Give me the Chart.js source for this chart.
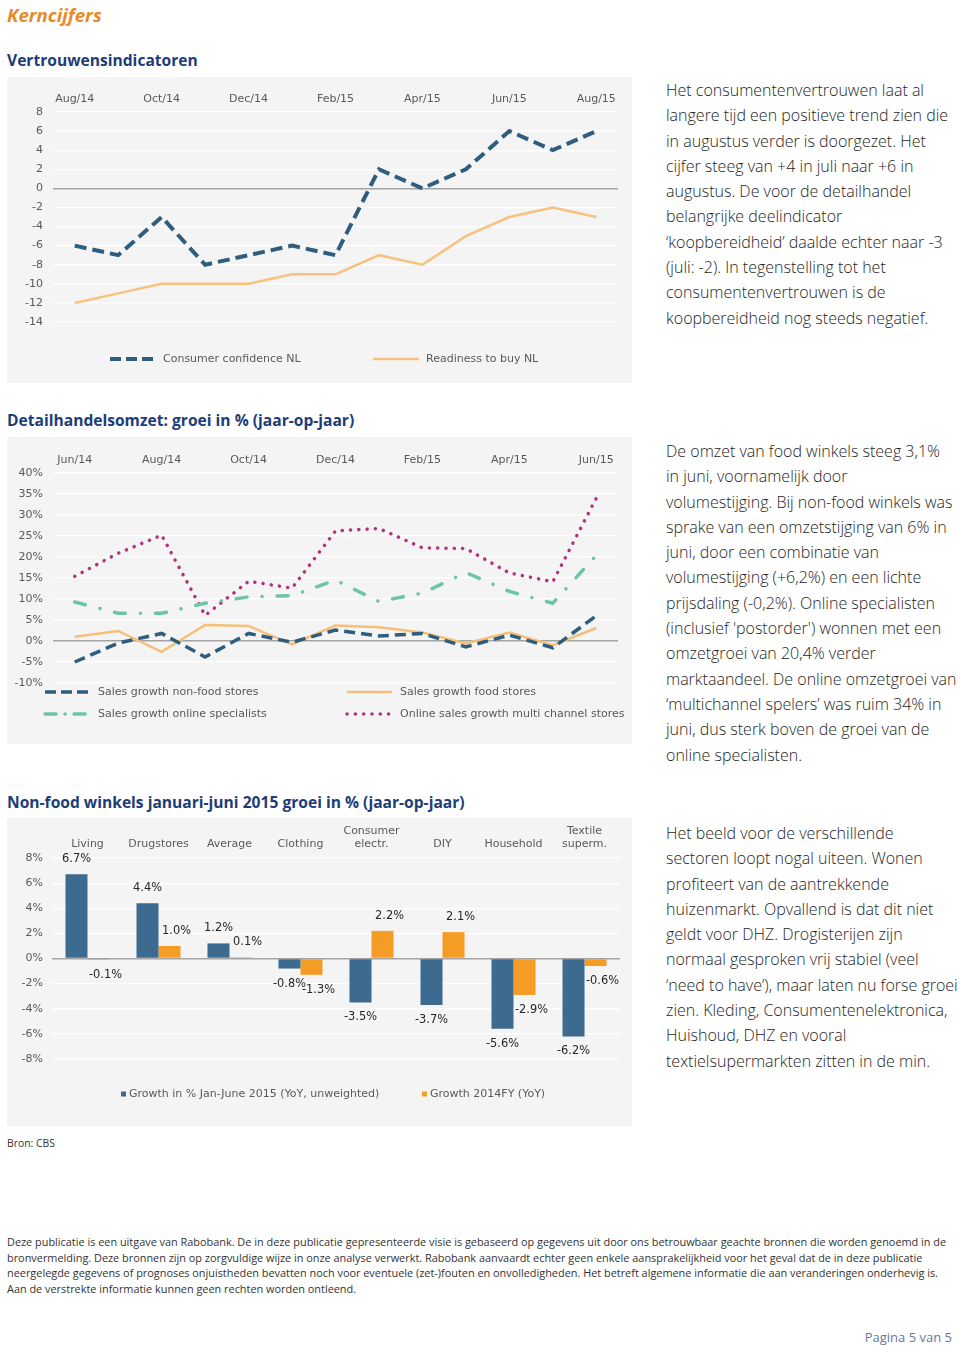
<!DOCTYPE html>
<html lang="nl">
<head>
<meta charset="utf-8">
<title>Kerncijfers</title>
<script src="https://cdn.jsdelivr.net/npm/chart.js@4.4.1/dist/chart.umd.min.js"></script>
<style>
  html, body { margin: 0; padding: 0; background: #fff; }
  body { width: 960px; height: 1350px; position: relative; overflow: hidden; font-family: 'Open Sans', sans-serif; color: #1e1e1e; }
  .abs { position: absolute; white-space: nowrap; }
  .head { left: 7px; top: 3px; font-size: 18.6px; line-height: 24px; font-weight: 700; font-style: italic; color: #e98a25; }
  .title { left: 7px; font-size: 15.6px; line-height: 20px; font-weight: 700; color: #1d3d78; }
  .panel { position: absolute; left: 7px; width: 625px; background: #f4f4f4; }
  .panel canvas { display: block; }
  .note { left: 666px; font-size: 16px; line-height: 25.3px; font-weight: 300; color: #1e1e1e; }
  .source { left: 7px; top: 1135px; font-size: 10.4px; line-height: 16px; color: #333; }
  .disclaimer { left: 7px; top: 1234px; font-size: 10.9px; line-height: 15.6px; color: #333; }
  .page { right: 8px; top: 1329px; font-size: 13px; line-height: 16px; color: #66789a; }
</style>
</head>
<body>

<div class="abs head">Kerncijfers</div>

<div class="abs title" style="top:50px">Vertrouwensindicatoren</div>
<div class="panel" style="top:77px;height:306px"><canvas id="confidenceChart" width="625" height="306"></canvas></div>
<div class="abs note" style="top:78px">Het consumentenvertrouwen laat al<br>langere tijd een positieve trend zien die<br>in augustus verder is doorgezet. Het<br>cijfer steeg van +4 in juli naar +6 in<br>augustus. De voor de detailhandel<br>belangrijke deelindicator<br>‘koopbereidheid’ daalde echter naar -3<br>(juli: -2). In tegenstelling tot het<br>consumentenvertrouwen is de<br>koopbereidheid nog steeds negatief.</div>

<div class="abs title" style="top:410px">Detailhandelsomzet: groei in % (jaar-op-jaar)</div>
<div class="panel" style="top:437px;height:307px"><canvas id="retailChart" width="625" height="307"></canvas></div>
<div class="abs note" style="top:439px">De omzet van food winkels steeg 3,1%<br>in juni, voornamelijk door<br>volumestijging. Bij non-food winkels was<br>sprake van een omzetstijging van 6% in<br>juni, door een combinatie van<br>volumestijging (+6,2%) en een lichte<br>prijsdaling (-0,2%). Online specialisten<br>(inclusief 'postorder') wonnen met een<br>omzetgroei van 20,4% verder<br>marktaandeel. De online omzetgroei van<br>‘multichannel spelers’ was ruim 34% in<br>juni, dus sterk boven de groei van de<br>online specialisten.</div>

<div class="abs title" style="top:792px">Non-food winkels januari-juni 2015 groei in % (jaar-op-jaar)</div>
<div class="panel" style="top:818px;height:308px"><canvas id="sectorChart" width="625" height="308"></canvas></div>
<div class="abs note" style="top:821px">Het beeld voor de verschillende<br>sectoren loopt nogal uiteen. Wonen<br>profiteert van de aantrekkende<br>huizenmarkt. Opvallend is dat dit niet<br>geldt voor DHZ. Drogisterijen zijn<br>normaal gesproken vrij stabiel (veel<br>‘need to have’), maar laten nu forse groei<br>zien. Kleding, Consumentenelektronica,<br>Huishoud, DHZ en vooral<br>textielsupermarkten zitten in de min.</div>

<div class="abs source">Bron: CBS</div>

<div class="abs disclaimer">Deze publicatie is een uitgave van Rabobank. De in deze publicatie gepresenteerde visie is gebaseerd op gegevens uit door ons betrouwbaar geachte bronnen die worden genoemd in de<br>bronvermelding. Deze bronnen zijn op zorgvuldige wijze in onze analyse verwerkt. Rabobank aanvaardt echter geen enkele aansprakelijkheid voor het geval dat de in deze publicatie<br>neergelegde gegevens of prognoses onjuistheden bevatten noch voor eventuele (zet-)fouten en onvolledigheden. Het betreft algemene informatie die aan veranderingen onderhevig is.<br>Aan de verstrekte informatie kunnen geen rechten worden ontleend.</div>

<div class="abs page">Pagina 5 van 5</div>

<script>
// Vertrouwensindicatoren (Aug/14 - Aug/15)
const confidenceMonths = ['Aug/14', 'Sep/14', 'Oct/14', 'Nov/14', 'Dec/14', 'Jan/15', 'Feb/15',
  'Mar/15', 'Apr/15', 'May/15', 'Jun/15', 'Jul/15', 'Aug/15'];
const consumerConfidence = [-6, -7, -3, -8, -7, -6, -7, 2, 0, 2, 6, 4, 6];
const readinessToBuy = [-12, -11, -10, -10, -10, -9, -9, -7, -8, -5, -3, -2, -3];

// Detailhandelsomzet (Jun/14 - Jun/15), % yoy
const retailMonths = ['Jun/14', 'Jul/14', 'Aug/14', 'Sep/14', 'Oct/14', 'Nov/14', 'Dec/14',
  'Jan/15', 'Feb/15', 'Mar/15', 'Apr/15', 'May/15', 'Jun/15'];
const nonFoodGrowth = [-5, -0.5, 1.8, -3.8, 1.8, -0.3, 2.6, 1.2, 1.8, -1.4, 1.4, -1.6, 6.0];
const foodGrowth = [1.0, 2.4, -2.6, 3.8, 3.6, -0.8, 3.7, 3.3, 2.0, -0.6, 2.0, -1.0, 3.1];
const onlineSpecialists = [9.3, 6.6, 6.6, 9.0, 10.5, 10.8, 14.5, 9.4, 11.4, 16.3, 11.8, 9.0, 20.4];
const multiChannelOnline = [15.4, 20.9, 25.2, 6.1, 14.2, 12.6, 26.2, 26.8, 22.2, 22.0, 16.2, 14.1, 34.0];

// Non-food sectors
const sectors = ['Living', 'Drugstores', 'Average', 'Clothing', ['Consumer', 'electr.'], 'DIY', 'Household', ['Textile', 'superm.']];
const growthH1_2015 = [6.7, 4.4, 1.2, -0.8, -3.5, -3.7, -5.6, -6.2];
const growth2014FY = [-0.1, 1.0, 0.1, -1.3, 2.2, 2.1, -2.9, -0.6];

Chart.defaults.font.family = '"DejaVu Sans", Verdana, sans-serif';
Chart.defaults.font.size = 11;
Chart.defaults.color = '#595959';

const TICK = '#595959';

// legend laid out in fixed columns/rows, like the Excel original
const gridLegend = {
  id: 'gridLegend',
  afterDraw(chart, args, opts) {
    const ctx = chart.ctx;
    ctx.save();
    ctx.font = '11px "DejaVu Sans", Verdana, sans-serif';
    ctx.textBaseline = 'middle';
    chart.data.datasets.forEach((ds, i) => {
      const x = opts.cols[i % opts.cols.length];
      const y = opts.rows[Math.floor(i / opts.cols.length)];
      if (opts.square) {
        ctx.fillStyle = ds.backgroundColor;
        ctx.fillRect(x, y - 2.5, 5, 5);
      } else {
        ctx.strokeStyle = ds.borderColor;
        ctx.lineWidth = ds.borderWidth;
        ctx.lineCap = ds.borderCapStyle || 'butt';
        ctx.setLineDash(ds.legendDash || ds.borderDash || []);
        ctx.beginPath();
        ctx.moveTo(x, y);
        ctx.lineTo(x + opts.sample, y);
        ctx.stroke();
        ctx.setLineDash([]);
      }
      ctx.fillStyle = TICK;
      ctx.fillText(ds.label, x + opts.textGap, y);
    });
    ctx.restore();
  }
};

// value labels outside the bar ends; second series sits a bit to the right as in the original
const barValueLabels = {
  id: 'barValueLabels',
  afterDatasetsDraw(chart, args, opts) {
    const ctx = chart.ctx;
    ctx.save();
    ctx.font = '11.4px "DejaVu Sans", Verdana, sans-serif';
    ctx.fillStyle = '#262626';
    ctx.textAlign = 'center';
    ctx.textBaseline = 'middle';
    chart.data.datasets.forEach((ds, di) => {
      const dx = opts.shiftX[di] || 0;
      chart.getDatasetMeta(di).data.forEach((bar, i) => {
        const v = ds.data[i];
        const y = v >= 0 ? bar.y - opts.offset : bar.y + opts.offset;
        ctx.fillText(v.toFixed(1) + '%', bar.x + dx, y);
      });
    });
    ctx.restore();
  }
};

function yAxis(min, max, step, width, pad, suffix) {
  return {
    min, max,
    ticks: { stepSize: step, padding: pad, color: TICK, callback: (v) => v + suffix },
    grid: {
      drawTicks: false,
      color: (c) => c.tick.value === 0 ? '#a3a3a3' : '#ffffff',
      lineWidth: (c) => c.tick.value === 0 ? 1.6 : 1.2
    },
    border: { display: false },
    afterFit: (s) => { s.width = width; }
  };
}

function xAxisTop(height, pad, every) {
  return {
    position: 'top',
    offset: true,
    grid: { display: false, drawTicks: false },
    border: { display: false },
    ticks: {
      autoSkip: false, maxRotation: 0, padding: pad, color: TICK,
      callback: function (v, i) { return i % every === 0 ? this.getLabelForValue(v) : ''; }
    },
    afterFit: (s) => { s.height = height; }
  };
}

const baseOptions = {
  responsive: false,
  devicePixelRatio: 1,
  animation: false,
  plugins: { legend: { display: false }, tooltip: { enabled: false } }
};

new Chart(document.getElementById('confidenceChart'), {
  type: 'line',
  data: {
    labels: confidenceMonths,
    datasets: [
      { label: 'Consumer confidence NL', data: consumerConfidence, borderColor: '#2f5d7e', borderWidth: 4,
        borderDash: [12, 6], legendDash: [11, 5], pointRadius: 0, tension: 0, fill: false },
      { label: 'Readiness to buy NL', data: readinessToBuy, borderColor: '#f6c27e', borderWidth: 2.5,
        pointRadius: 0, tension: 0, fill: false }
    ]
  },
  options: {
    ...baseOptions,
    layout: { padding: { top: 0, left: 0, right: 14, bottom: 61 } },
    scales: { x: xAxisTop(35, 6, 2), y: yAxis(-14, 8, 2, 46, 10, '') },
    plugins: { ...baseOptions.plugins, gridLegend: { cols: [103, 366], rows: [282], sample: 46, textGap: 53 } }
  },
  plugins: [gridLegend]
});

new Chart(document.getElementById('retailChart'), {
  type: 'line',
  data: {
    labels: retailMonths,
    datasets: [
      { label: 'Sales growth non-food stores', data: nonFoodGrowth, borderColor: '#2f5d7e', borderWidth: 3.5,
        borderDash: [11, 6], legendDash: [11, 5], pointRadius: 0, tension: 0, fill: false },
      { label: 'Sales growth food stores', data: foodGrowth, borderColor: '#f6bf78', borderWidth: 2.5,
        pointRadius: 0, tension: 0, fill: false },
      { label: 'Sales growth online specialists', data: onlineSpecialists, borderColor: '#6cc5a4', borderWidth: 3.5,
        borderDash: [11, 15, 0.1, 15], legendDash: [11, 9, 0.1, 9], borderCapStyle: 'round', pointRadius: 0, tension: 0, fill: false },
      { label: 'Online sales growth multi channel stores', data: multiChannelOnline, borderColor: '#b0347c', borderWidth: 3.5,
        borderDash: [0.1, 8.2], borderCapStyle: 'round', pointRadius: 0, tension: 0, fill: false }
    ]
  },
  options: {
    ...baseOptions,
    layout: { padding: { top: 0, left: 0, right: 14, bottom: 61 } },
    scales: { x: xAxisTop(36, 6, 2), y: yAxis(-10, 40, 5, 46, 10, '%') },
    plugins: { ...baseOptions.plugins, gridLegend: { cols: [38, 340], rows: [255, 277], sample: 45, textGap: 53 } }
  },
  plugins: [gridLegend]
});

new Chart(document.getElementById('sectorChart'), {
  type: 'bar',
  data: {
    labels: sectors,
    datasets: [
      { label: 'Growth in % Jan-June 2015 (YoY, unweighted)', data: growthH1_2015, backgroundColor: '#3c6b8f',
        categoryPercentage: 0.62, barPercentage: 1.0 },
      { label: 'Growth 2014FY (YoY)', data: growth2014FY, backgroundColor: '#f59c25',
        categoryPercentage: 0.62, barPercentage: 1.0 }
    ]
  },
  options: {
    ...baseOptions,
    layout: { padding: { top: 0, left: 0, right: 12, bottom: 67 } },
    scales: { x: xAxisTop(40, 7, 1), y: yAxis(-8, 8, 2, 45, 9, '%') },
    plugins: { ...baseOptions.plugins,
      gridLegend: { cols: [114, 415], rows: [276], square: true, textGap: 8 },
      barValueLabels: { offset: 15, shiftX: [0, 7] } }
  },
  plugins: [gridLegend, barValueLabels]
});
</script>
</body>
</html>
